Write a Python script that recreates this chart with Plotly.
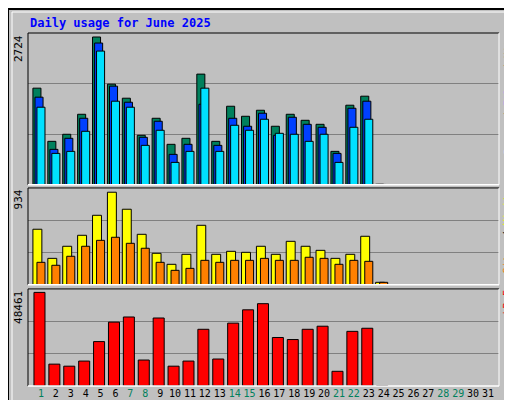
import plotly.graph_objects as go

days = list(range(1, 32))
hits = [1781, 801, 931, 1300, 2724, 1855, 1596, 912, 1226, 746, 857, 2040, 801, 1448, 1263, 1374, 1079, 1300, 1189, 1115, 616, 1467, 1633, 10]
files = [1615, 653, 857, 1226, 2613, 1818, 1522, 875, 1171, 561, 746, 1485, 727, 1226, 1079, 1319, 912, 1245, 1115, 1060, 579, 1411, 1541, 6]
pages = [1430, 579, 616, 986, 2465, 1541, 1430, 727, 1005, 413, 616, 1781, 616, 1097, 1005, 1208, 949, 931, 801, 931, 413, 1060, 1208, 4]
visits = [560, 266, 388, 499, 701, 934, 762, 509, 317, 206, 307, 600, 307, 337, 327, 388, 307, 438, 388, 347, 266, 307, 489, 24]
sites = [226, 196, 287, 388, 448, 479, 418, 368, 226, 145, 165, 246, 226, 246, 246, 266, 246, 246, 277, 266, 206, 246, 236, 24]
kbytes = [48461, 11320, 10260, 12910, 23000, 33080, 35730, 13440, 35200, 10260, 12910, 29360, 13970, 32550, 39450, 42630, 25120, 24060, 29360, 30960, 7610, 28300, 29900, 200]
weekend = [1, 7, 8, 14, 15, 21, 22, 28, 29]
ymax_labels = ["2724", "934", "48461"]

n = len(hits)
x = days[:n]
fig = go.Figure()
line = dict(color="black", width=1)
def bar(y, color, off, w, ax):
    fig.add_trace(go.Bar(x=x, y=y, marker=dict(color=color, line=line), offset=off, width=w,
                         xaxis="x", yaxis=ax, showlegend=False, hoverinfo="skip"))
bar(hits, "#00805C", -0.54, 0.54, "y")
bar(files, "#0040FF", -0.40, 0.54, "y")
bar(pages, "#00E0FF", -0.27, 0.54, "y")
bar(visits, "#FFFF00", -0.54, 0.6, "y2")
bar(sites, "#FF8000", -0.27, 0.54, "y2")
bar(kbytes, "#FF0000", -0.47, 0.74, "y3")

ranges = [2798, 977, 50265]
doms = [[0.570, 1.0], [0.287, 0.561], [0.0, 0.275]]
ticktext = [f'<span style="color:{"#00805C" if d in weekend else "black"}">{d}</span>' for d in days]
fig.update_layout(
    width=512, height=400, paper_bgcolor="#C0C0C0", plot_bgcolor="#C0C0C0",
    margin=dict(l=20, r=21, t=25, b=22, autoexpand=False), barmode="overlay",
    font=dict(family="DejaVu Sans Mono", size=10, color="black"),
    xaxis=dict(range=[0.13, 31.74], tickvals=days, ticktext=ticktext, showgrid=False,
               zeroline=False, ticks="", anchor="y3", tickangle=0, automargin=False,
               tickfont=dict(size=10, family="DejaVu Sans Mono")),
)
for i, (ax, r, d) in enumerate(zip(["yaxis", "yaxis2", "yaxis3"], ranges, doms)):
    fig.layout[ax] = dict(range=[0, r], domain=d, tickvals=[r / 3, 2 * r / 3], showticklabels=False,
                          gridcolor="#808080", gridwidth=1, zeroline=False, ticks="", anchor="x",
                          automargin=False)

for d in doms:
    y0, y1 = d
    fig.add_shape(type="line", xref="paper", yref="paper", x0=0, x1=1, y0=y1, y1=y1, line=dict(color="black", width=1))
    fig.add_shape(type="line", xref="paper", yref="paper", x0=0, x1=0, y0=y0, y1=y1, line=dict(color="black", width=1))
    fig.add_shape(type="line", xref="paper", yref="paper", x0=1, x1=1, y0=y0, y1=y1, line=dict(color="white", width=1))
    fig.add_shape(type="line", xref="paper", yref="paper", x0=0, x1=1, y0=y0, y1=y0, line=dict(color="white", width=1.5))
fig.add_shape(type="rect", xref="paper", yref="paper", x0=-20/471, x1=1+20/471, y0=-21/353, y1=1+24/353,
              line=dict(color="black", width=2))
fig.add_shape(type="rect", xref="paper", yref="paper", x0=-16/471, x1=1+16/471, y0=-18/353, y1=1+21/353,
              line=dict(color="white", width=1))

fig.add_annotation(text="<b>Daily usage for June 2025</b>", xref="paper", yref="paper", x=0, y=1 + 10/353,
                   xanchor="left", yanchor="middle", showarrow=False, font=dict(color="#0000FF", size=12))
for lab, d in zip(ymax_labels, doms):
    fig.add_annotation(text=lab, xref="paper", yref="paper", x=-1/471, y=d[1], xanchor="right", yanchor="top",
                       textangle=-90, showarrow=False, font=dict(size=11))
right = ['<span style="color:#00E0FF">Pages</span> / <span style="color:#0040FF">Files</span> / <span style="color:#00805C">Hits</span>',
         '<span style="color:#FF8000">Sites</span> / <span style="color:#FFFF00">Visits</span>',
         '<span style="color:#FF0000">kB F</span>']
for t, d in zip(right, doms):
    fig.add_annotation(text=t, xref="paper", yref="paper", x=1 + 1/471, y=d[1], xanchor="left", yanchor="top",
                       textangle=-90, showarrow=False, font=dict(size=10))
fig.write_html("out.html")
